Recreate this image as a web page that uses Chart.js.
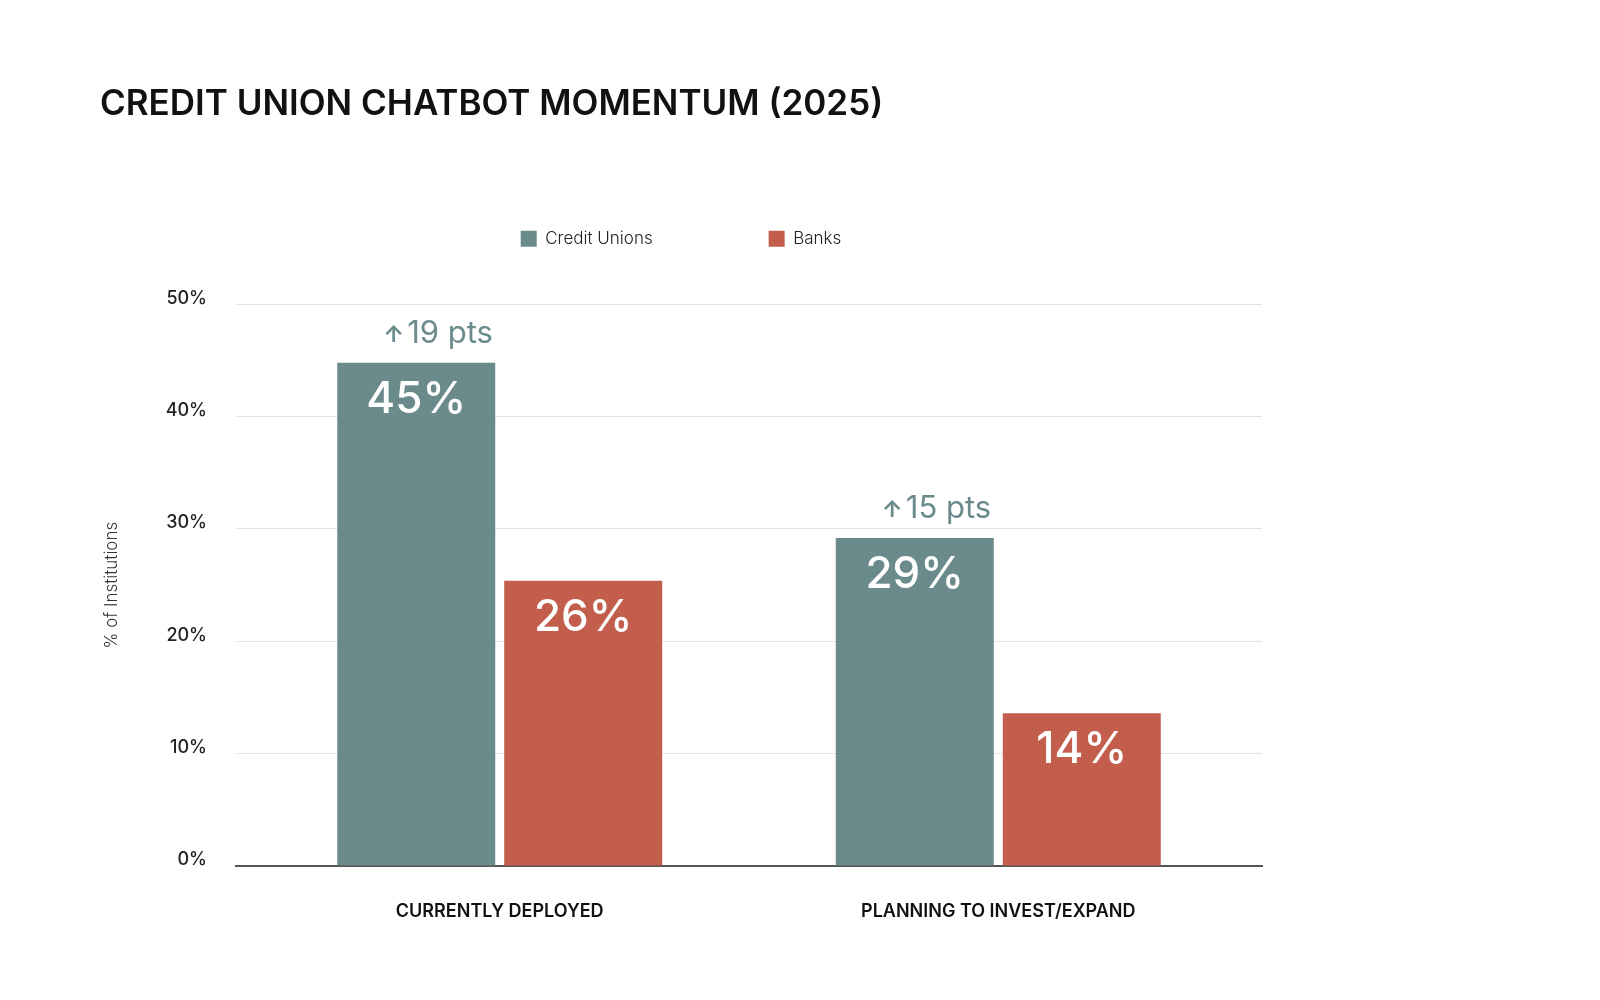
<!DOCTYPE html>
<html>
<head>
<meta charset="utf-8">
<script src="https://cdn.jsdelivr.net/npm/chart.js@4.4.1/dist/chart.umd.min.js"></script>
<style>
  html, body { margin: 0; padding: 0; background: #ffffff; }
  #wrap { width: 1600px; height: 1000px; position: relative; }
</style>
</head>
<body>
<div id="wrap"><canvas id="c"></canvas></div>
<script>
// ---- data ----
const categories = ['CURRENTLY DEPLOYED', 'PLANNING TO INVEST/EXPAND'];
const seriesNames = ['Credit Unions', 'Banks'];
const creditUnions = [44.8, 29.2];
const banks = [25.4, 13.6];
const creditUnionLabels = ['45%', '29%'];
const bankLabels = ['26%', '14%'];
const deltaLabels = ['19 pts', '15 pts'];
const yTicks = [0, 10, 20, 30, 40, 50];
const chartTitle = 'CREDIT UNION CHATBOT MOMENTUM (2025)';
const yTitle = '% of Institutions';

const TEAL = '#6b8a8b';
const RED = '#c25e4b';
const FONT = 'Inter';

const valueLabels = [creditUnionLabels, bankLabels];

const barLabels = {
  id: 'barLabels',
  afterDatasetsDraw(chart) {
    const ctx = chart.ctx;
    ctx.save();
    chart.data.datasets.forEach((ds, di) => {
      const meta = chart.getDatasetMeta(di);
      meta.data.forEach((bar, i) => {
        const p = bar.getProps(['x', 'y', 'width'], true);
        ctx.font = '500 44px ' + FONT;
        ctx.fillStyle = '#ffffff';
        ctx.textAlign = 'center';
        ctx.textBaseline = 'alphabetic';
        ctx.fillText(valueLabels[di][i], p.x, p.y + 50);
      });
    });
    const meta0 = chart.getDatasetMeta(0);
    meta0.data.forEach((bar, i) => {
      const p = bar.getProps(['x', 'y', 'width'], true);
      const left = p.x - p.width / 2 + 46;
      const base = p.y - 20;
      ctx.fillStyle = TEAL;
      ctx.textAlign = 'left';
      ctx.textBaseline = 'alphabetic';
      ctx.font = '700 23px ' + FONT;
      ctx.fillText('\u2191', left, base - 1);
      ctx.font = '400 31px ' + FONT;
      ctx.fillText(deltaLabels[i], left + 24, base);
    });
    ctx.restore();
  }
};

const legendSpacer = {
  id: 'legendSpacer',
  beforeInit(chart) {
    const lg = chart.legend;
    const orig = lg.fit;
    lg.fit = function () { orig.call(this); this.height = 190; };
  }
};

function build() {
  Chart.defaults.font.family = FONT;
  new Chart(document.getElementById('c'), {
    type: 'bar',
    data: {
      datasets: [
        { label: seriesNames[0], data: creditUnions.map((v, i) => ({ x: i, y: v })), backgroundColor: TEAL, borderWidth: 0 },
        { label: seriesNames[1], data: banks.map((v, i) => ({ x: i, y: v })), backgroundColor: RED, borderWidth: 0 }
      ]
    },
    options: {
      responsive: true,
      maintainAspectRatio: false,
      animation: false,
      categoryPercentage: 0.67,
      barPercentage: 0.946,
      layout: { padding: { top: 0, left: 100, right: 338, bottom: 54 } },
      plugins: {
        tooltip: { enabled: false },
        title: {
          display: true, text: chartTitle, align: 'start', color: '#111111',
          font: { size: 35, weight: '600', lineHeight: 0.55 },
          padding: { top: 95, bottom: 0 }
        },
        legend: {
          position: 'top', align: 'center',
          labels: { boxWidth: 16, boxHeight: 16, padding: 116, color: '#222222', font: { size: 17, weight: '300' } }
        }
      },
      scales: {
        x: {
          type: 'linear', min: -0.529, max: 1.529, offset: false,
          afterBuildTicks: s => { s.ticks = categories.map((c, i) => ({ value: i })); },
          ticks: {
            callback: v => categories[v] !== undefined ? categories[v] : '',
            autoSkip: false, maxRotation: 0, padding: 35,
            color: '#111111', font: { size: 18, weight: '600' }
          },
          grid: { display: false, drawTicks: false },
          border: { display: true, color: '#555555', width: 2 },
          afterFit: s => { s.height = 80; }
        },
        y: {
          min: 0, max: 50,
          afterBuildTicks: s => { s.ticks = yTicks.map(v => ({ value: v })); },
          ticks: { callback: v => v + '%', padding: 29, labelOffset: -6, color: '#222222', font: { size: 18, weight: '500' } },
          grid: { color: '#e3e3e3', drawTicks: false, lineWidth: 1 },
          border: { display: false },
          title: { display: true, text: yTitle, color: '#333333', font: { size: 17, weight: '300' }, padding: { top: 2, bottom: 0 } },
          afterFit: s => { s.width = 136; }
        }
      }
    },
    plugins: [barLabels, legendSpacer]
  });
}

const loads = ['600 35px Inter', '300 17px Inter', '500 18px Inter', '600 18px Inter', '500 44px Inter', '400 31px Inter', '700 23px Inter']
  .map(f => document.fonts.load(f).catch(() => null));
Promise.all(loads).then(build, build);
</script>
</body>
</html>
